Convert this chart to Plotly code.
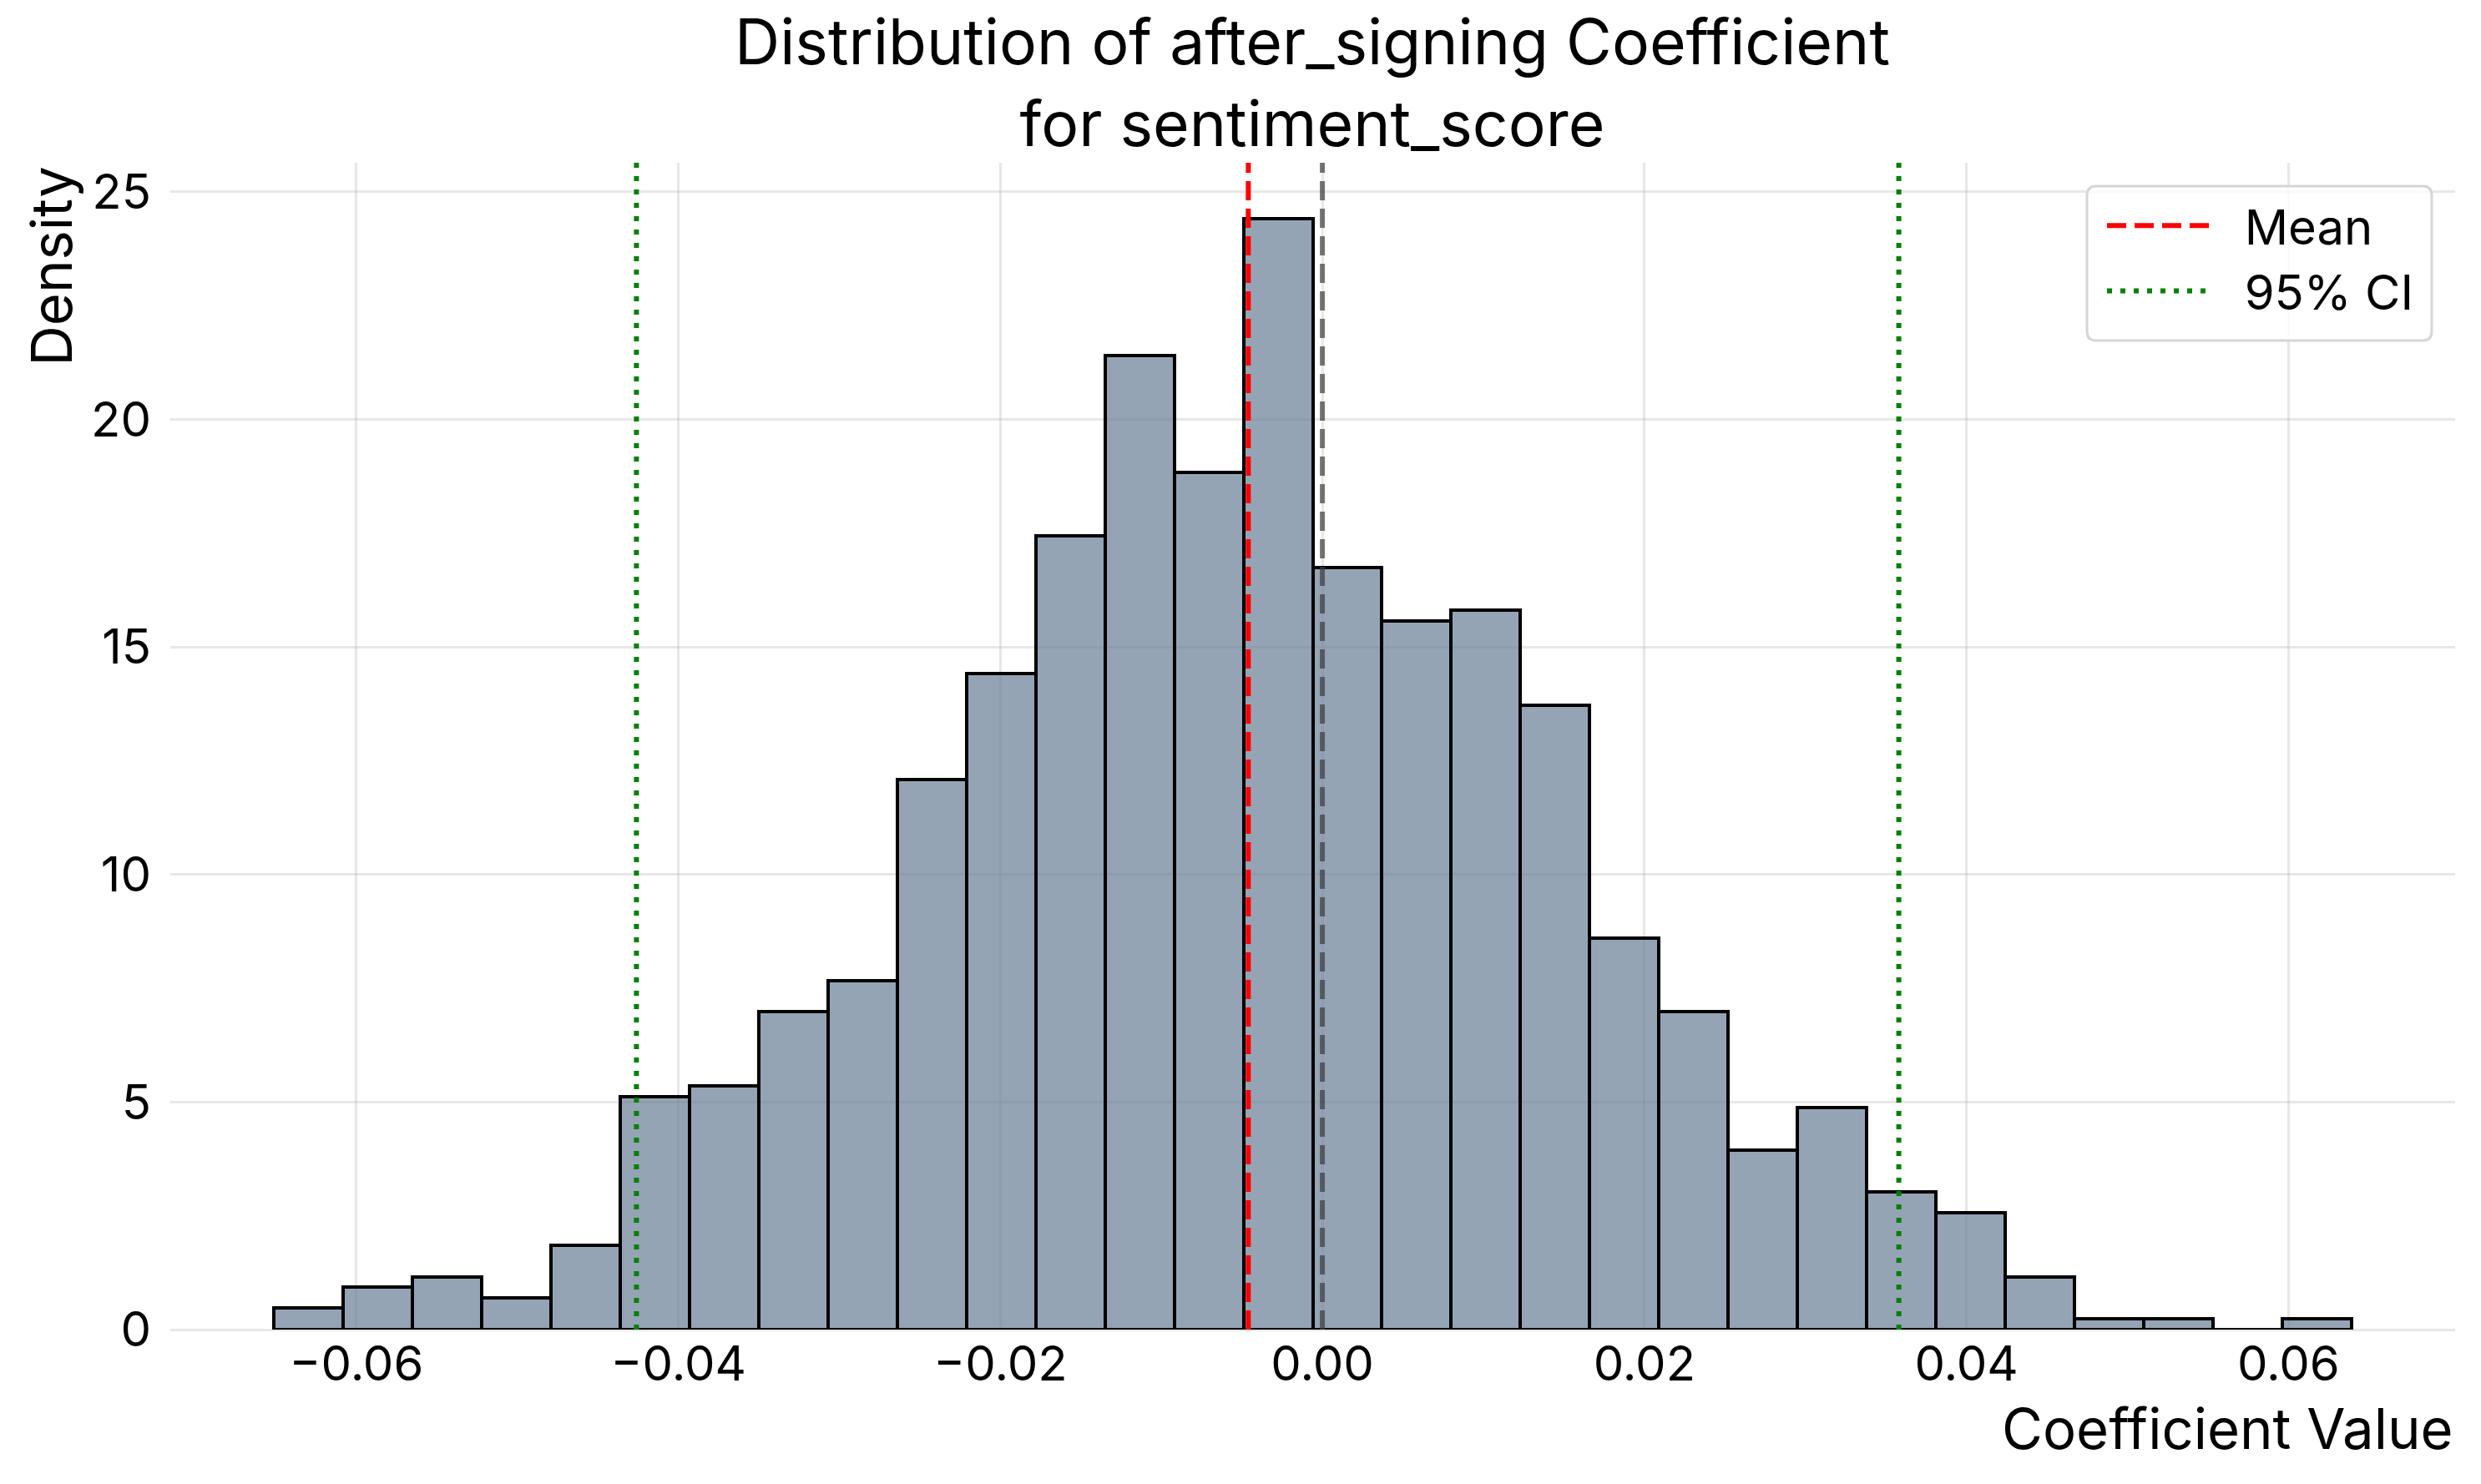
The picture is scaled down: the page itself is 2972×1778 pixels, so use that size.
import plotly.graph_objects as go

# ---- data ----
bin_start = -0.0651
bin_width = 0.0043
density = [0.47, 0.93, 1.16, 0.70, 1.86, 5.12, 5.35, 6.98, 7.67, 12.09,
           14.42, 17.44, 21.40, 18.84, 24.42, 16.74, 15.58, 15.81, 13.72, 8.60,
           6.98, 3.95, 4.88, 3.02, 2.56, 1.16, 0.23, 0.23, 0.00, 0.23]
mean_value = -0.0046
ci_lower = -0.0426
ci_upper = 0.0358
zero_ref = 0.0

x_tick_vals = [-0.06, -0.04, -0.02, 0.0, 0.02, 0.04, 0.06]
x_tick_text = ["\u22120.06", "\u22120.04", "\u22120.02", "0.00", "0.02", "0.04", "0.06"]
y_tick_vals = [0, 5, 10, 15, 20, 25]
y_tick_text = ["0", "5", "10", "15", "20", "25"]

title_lines = ["Distribution of after_signing Coefficient", "for sentiment_score"]
x_label = "Coefficient Value"
y_label = "Density"
legend_names = ["Mean", "95% CI"]

# ---- derived ----
n_bins = len(density)
centers = [bin_start + bin_width * (i + 0.5) for i in range(n_bins)]
bin_end = bin_start + bin_width * n_bins
span = bin_end - bin_start
x_range = [bin_start - 0.05 * span, bin_end + 0.05 * span]
y_range = [0, max(density) * 1.05]

W, H = 2972, 1778
ML, MR, MT, MB = 204, 31, 195, 185
PW, PH = W - ML - MR, H - MT - MB


def px_x(px):
    return (px - ML) / PW


def px_y(py):
    return (H - MB - py) / PH


FONT = "Inter"
GRID = "rgba(176,176,176,0.3)"
PAD = "\u00a0\u00a0"

fig = go.Figure()
fig.add_trace(go.Bar(
    x=centers, y=density, width=bin_width,
    marker=dict(color="rgba(104,126,150,0.7)", line=dict(color="black", width=4)),
    showlegend=False, hoverinfo="x+y",
))

shapes = []
shapes.append(dict(type="line", xref="x", yref="paper", x0=mean_value, x1=mean_value, y0=0, y1=1,
                   line=dict(color="red", width=6, dash="23px,10px"), layer="above",
                   name=PAD + legend_names[0], showlegend=True, legendrank=1))
shapes.append(dict(type="line", xref="x", yref="paper", x0=ci_lower, x1=ci_lower, y0=0, y1=1,
                   line=dict(color="green", width=6, dash="6px,10px"), layer="above",
                   name=PAD + legend_names[1], showlegend=True, legendgroup="ci", legendrank=2))
shapes.append(dict(type="line", xref="x", yref="paper", x0=ci_upper, x1=ci_upper, y0=0, y1=1,
                   line=dict(color="green", width=6, dash="6px,10px"), layer="above",
                   name=PAD + legend_names[1], showlegend=False, legendgroup="ci"))
shapes.append(dict(type="line", xref="x", yref="paper", x0=zero_ref, x1=zero_ref, y0=0, y1=1,
                   line=dict(color="rgba(60,60,60,0.7)", width=6, dash="23px,10px"), layer="above",
                   showlegend=False))

# rounded legend frame
bx0, bx1, by0, by1 = px_x(2500), px_x(2913), px_y(408), px_y(223)
rx, ry = 11 / PW, 11 / PH
path = (f"M{bx0+rx},{by1} L{bx1-rx},{by1} Q{bx1},{by1} {bx1},{by1-ry} "
        f"L{bx1},{by0+ry} Q{bx1},{by0} {bx1-rx},{by0} L{bx0+rx},{by0} "
        f"Q{bx0},{by0} {bx0},{by0+ry} L{bx0},{by1-ry} Q{bx0},{by1} {bx0+rx},{by1} Z")
shapes.append(dict(type="path", xref="paper", yref="paper", path=path,
                   fillcolor="rgba(255,255,255,0.8)", line=dict(color="#d6d6d6", width=3),
                   layer="above", showlegend=False))

annotations = [
    dict(text=y_label, xref="paper", yref="paper", x=px_x(61), y=px_y(198),
         xanchor="center", yanchor="top", textangle=-90, showarrow=False,
         font=dict(family=FONT, size=67, color="black")),
    dict(text=x_label, xref="paper", yref="paper", x=1, y=px_y(1711),
         xanchor="right", yanchor="middle", showarrow=False,
         font=dict(family=FONT, size=67, color="black")),
]

fig.update_layout(
    width=W, height=H,
    margin=dict(l=ML, r=MR, t=MT, b=MB, pad=0),
    paper_bgcolor="white", plot_bgcolor="white",
    font=dict(family=FONT, color="black"),
    title=dict(text="<br>".join(title_lines), x=px_x(1572), xref="paper", xanchor="center",
               y=1 - 77 / H, yref="container", yanchor="top",
               font=dict(family=FONT, size=75, color="black")),
    bargap=0,
    shapes=shapes,
    annotations=annotations,
    showlegend=True,
    legend=dict(x=px_x(2519), xanchor="left", y=px_y(226), yanchor="top",
                bgcolor="rgba(0,0,0,0)", borderwidth=0, itemwidth=127,
                font=dict(family=FONT, size=58, color="black"), traceorder="normal"),
    xaxis=dict(range=x_range, tickvals=x_tick_vals, ticktext=x_tick_text,
               showgrid=True, gridcolor=GRID, gridwidth=3,
               zeroline=True, zerolinecolor=GRID, zerolinewidth=3,
               showline=False, ticks="", ticklabelstandoff=2,
               tickfont=dict(family=FONT, size=58, color="black")),
    yaxis=dict(range=y_range, tickvals=y_tick_vals, ticktext=y_tick_text,
               showgrid=True, gridcolor=GRID, gridwidth=3,
               zeroline=True, zerolinecolor=GRID, zerolinewidth=3,
               showline=False, ticks="", ticklabelstandoff=22,
               tickfont=dict(family=FONT, size=58, color="black")),
)

fig.write_html("out.html", config={"displayModeBar": False},
               post_script="document.body.style.margin='0';document.body.style.overflow='hidden';")
